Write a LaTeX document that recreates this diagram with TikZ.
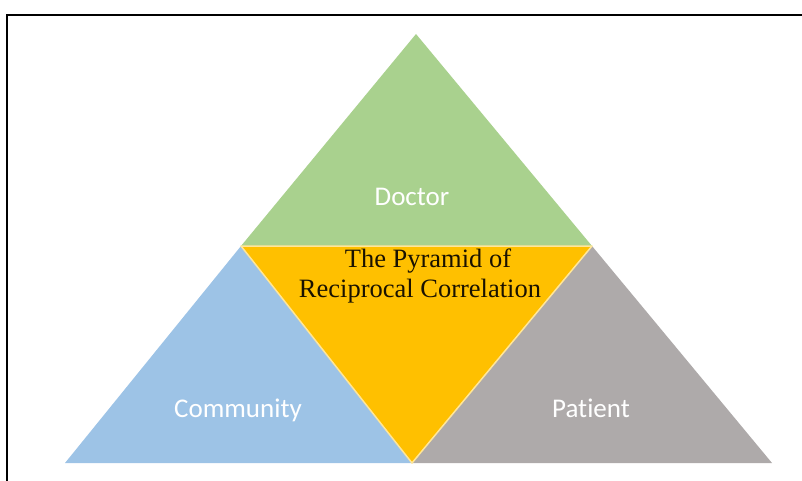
\documentclass[tikz,border=0pt]{standalone}
\usepackage{fontspec}
\setmainfont{Liberation Serif}
\newfontfamily\calfont[Ligatures=NoCommon]{Carlito}
\usetikzlibrary{positioning}

\definecolor{doctorgreen}{HTML}{A9D18E}
\definecolor{communityblue}{HTML}{9DC3E6}
\definecolor{patientgrey}{HTML}{AEAAAA}
\definecolor{pyramidgold}{HTML}{FFC000}
\definecolor{edgecream}{HTML}{FFE699}
\definecolor{titleink}{HTML}{1A1200}

\tikzset{
  cornerlabel/.style={font=\calfont\fontsize{27}{30}\selectfont,text=white,anchor=base},
  pyramidtitle/.style={font=\fontsize{26.5}{29.5}\selectfont,text=titleink,align=center}
}

\begin{document}
\begin{tikzpicture}[x=1pt,y=-1pt]
\useasboundingbox (0,0) rectangle (802,481);
\draw[line width=2pt] (7,481) -- (7,15) -- (802,15);

% corners of the pyramid
\coordinate (apex) at (416,34);
\coordinate (midL) at (241,246);
\coordinate (midR) at (592,246);
\coordinate (baseL) at (65,463);
\coordinate (baseM) at (412,463);
\coordinate (baseR) at (772,463);

\fill[doctorgreen] (apex) -- (midR) -- (midL) -- cycle;
\fill[communityblue] (midL) -- (baseM) -- (baseL) -- cycle;
\fill[patientgrey] (midR) -- (baseR) -- (baseM) -- cycle;
\draw[fill=pyramidgold,draw=edgecream,line width=1.5pt,line join=round] (midL) -- (midR) -- (baseM) -- cycle;

\node[cornerlabel] (doctor) at (412,205) {Doctor};
\node[cornerlabel] (community) at (238,417) {Community};
\node[cornerlabel] (patient) at (591,417) {Patient};
\node[pyramidtitle] (title) at (420,276) {\hspace*{16pt}The Pyramid of\\Reciprocal Correlation};

\end{tikzpicture}
\end{document}
